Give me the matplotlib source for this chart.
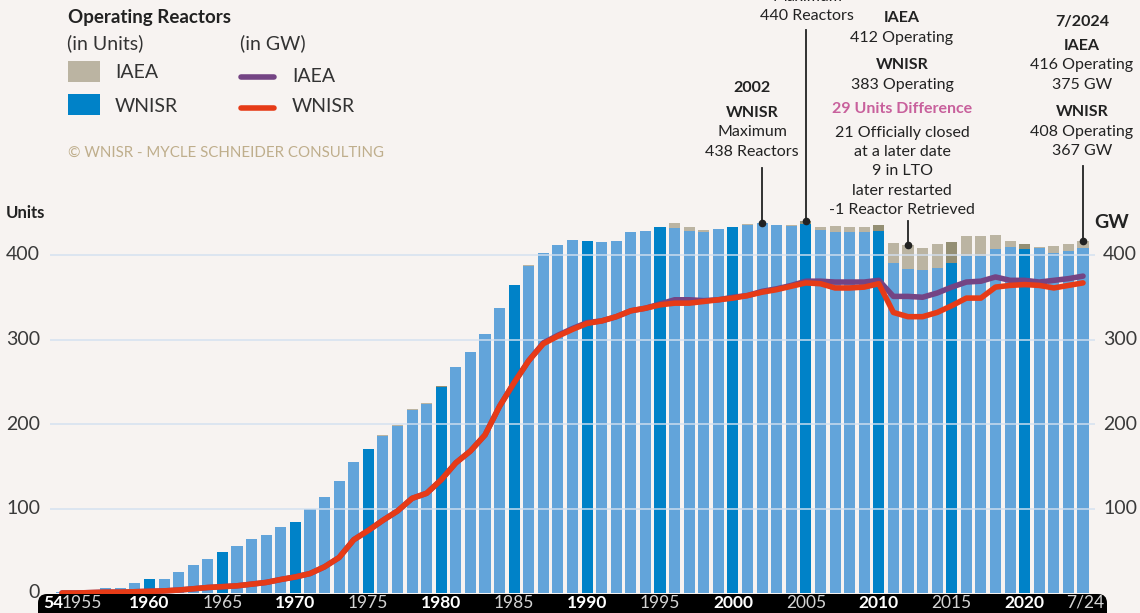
import matplotlib
matplotlib.use("Agg")
import matplotlib.pyplot as plt
from matplotlib.patches import FancyBboxPatch, Rectangle
import numpy as np

# ---------------- data ----------------
years = list(range(1954, 2025))
wnisr_units = [1, 1, 2, 6, 6, 12, 16, 17, 25, 33, 40, 48, 56, 64, 69, 78, 84, 99, 114, 132,
               155, 170, 186, 198, 217, 224, 244, 267, 285, 306, 337, 364, 387, 402, 412, 418,
               416, 415, 417, 427, 428, 433, 432, 428, 427, 431, 433, 436, 438, 435, 434, 437,
               430, 427, 427, 427, 428, 390, 383, 382, 385, 391, 399, 399, 407, 409, 407, 408,
               402, 405, 408]
iaea_units = [1, 1, 2, 6, 6, 12, 16, 17, 25, 33, 40, 48, 56, 64, 69, 78, 84, 99, 114, 132,
              155, 170, 187, 199, 218, 225, 245, 267, 285, 307, 337, 364, 388, 402, 412, 418,
              416, 415, 417, 427, 428, 433, 438, 433, 429, 431, 433, 437, 438, 436, 436, 440,
              433, 434, 433, 433, 435, 414, 412, 408, 413, 415, 422, 423, 424, 417, 413, 410,
              411, 413, 416]
wnisr_gw = [0, 0, 0.5, 1, 1, 1.5, 2, 2.5, 3.5, 5, 6.5, 7.5, 8.5, 10.5, 12.5, 16, 19, 23, 31, 42,
            63, 74, 86, 97, 112, 118, 134, 154, 168, 187, 221, 249, 275, 295, 304, 312,
            319, 322, 327, 334, 337, 341, 343, 343, 345, 347, 349, 352, 356, 359, 363, 367,
            366, 361, 361, 362, 366, 332, 327, 327, 332, 340, 349, 349, 362, 364, 365, 364,
            361, 364, 367]
iaea_gw = [0, 0, 0.5, 1, 1, 1.5, 2, 2.5, 3.5, 5, 6.5, 7.5, 8.5, 10.5, 12.5, 16, 19, 23, 31, 42,
           63, 74, 86, 97, 112, 118, 134, 154, 168, 187, 221, 249, 275, 296, 305, 313,
           320, 322, 327, 334, 337, 342, 347, 347, 346, 347, 350, 352, 357, 360, 364, 369,
           369, 368, 368, 368, 370, 351, 351, 350, 355, 362, 368, 369, 374, 370, 370, 368,
           370, 372, 375]
left_ticks = [0, 100, 200, 300, 400]
right_ticks = [100, 200, 300, 400]
x_label_years = list(range(1955, 2021, 5))

# ---------------- style ----------------
BG = "#f7f3f1"
LIGHT_BLUE = "#62a4da"
DARK_BLUE = "#0082c8"
GRAY = "#bbb4a2"
DARK_GRAY = "#948f74"
PURPLE = "#744484"
RED = "#e63b17"
TXT = "#222222"
PINK = "#c8609c"
FONT = ["Lato", "DejaVu Sans"]
plt.rcParams["font.family"] = FONT

W, H = 1140, 613
fig = plt.figure(figsize=(W / 100, H / 100), dpi=100, facecolor=BG)

PX = 0.845          # pixels per unit
Y0 = 593            # pixel row of zero
X0, DX = 62, 14.586  # pixel column of 1954 and pixels per year
ax_l, ax_r, ax_b = 50, 1095, 594
ax = fig.add_axes([ax_l / W, (H - ax_b) / H, (ax_r - ax_l) / W, ax_b / H])
ax.set_xlim(1954 + (ax_l - X0) / DX, 1954 + (ax_r - X0) / DX)
ax.set_ylim(-(ax_b - Y0) / PX, Y0 / PX)
ax.patch.set_visible(False)
ax.axis("off")

def v_of_py(py):
    return (Y0 - py) / PX

yrs = np.array(years)
wn = np.array(wnisr_units)
ia = np.array(iaea_units)
five = yrs % 5 == 0
bar_col = [DARK_BLUE if f else LIGHT_BLUE for f in five]
gap_col = [DARK_GRAY if f else GRAY for f in five]
ax.bar(yrs, wn, width=0.76, color=bar_col, zorder=2)
diff = np.clip(ia - wn, 0, None)
ax.bar(yrs, diff, bottom=wn, width=0.76, color=gap_col, zorder=2)

for tk in left_ticks[1:]:
    ax.axhline(tk, color="#d3e0f0", lw=1.3, alpha=0.8, zorder=3)

ax.plot(yrs, iaea_gw, color=PURPLE, lw=4.0, zorder=4, solid_capstyle="round", solid_joinstyle="round")
ax.plot(yrs, wnisr_gw, color=RED, lw=4.0, zorder=5, solid_capstyle="round", solid_joinstyle="round")

# annotation leader lines
def leader(year, val, top_py):
    ax.plot([year, year], [val, v_of_py(top_py)], color=TXT, lw=1.3, zorder=6, clip_on=False)
    ax.plot([year], [val], marker="o", ms=4.5, color=TXT, zorder=6, clip_on=False)

leader(2002, 438, 168)
leader(2005, 440, 30)
leader(2012, 412, 221)
leader(2024, 416, 166)

# ---------------- overlay in pixel coordinates ----------------
ov = fig.add_axes([0, 0, 1, 1], zorder=10)
ov.set_xlim(0, W)
ov.set_ylim(H, 0)
ov.patch.set_visible(False)
ov.axis("off")

def t(x, y, s, size=11.5, weight="normal", color=TXT, ha="center", **kw):
    ov.text(x, y, s, fontsize=size, fontweight=weight, color=color, ha=ha, va="center", **kw)

# x-axis black band
ov.add_patch(FancyBboxPatch((38, 594), 1069, 30, boxstyle="round,pad=0,rounding_size=9",
                            facecolor="black", edgecolor="none"))
t(53, 603, "54", size=12.5, weight="bold", color="white")
for yv in x_label_years:
    px = X0 + (yv - 1954) * DX
    if yv == 1955:
        px = 82
    if yv % 10 == 0:
        t(px, 603, str(yv), size=12.5, weight="bold", color="white")
    else:
        t(px, 603, str(yv), size=12.5, weight="normal", color="#d4d4d4")
t(1085, 603, "7/24", size=12.5, weight="normal", color="#d4d4d4")

# y tick labels
for v in left_ticks:
    t(40, Y0 - v * PX, str(v), size=14, weight="normal", color="#3a3a3a", ha="right")
for v in right_ticks:
    t(1103, Y0 - v * PX, str(v), size=14, weight="normal", color="#3a3a3a", ha="left")
t(6, 213, "Units", size=12, weight="bold", ha="left")
t(1094, 222, "GW", size=14, weight="bold", ha="left")

# legend
t(68, 17, "Operating Reactors", size=13.5, weight="bold", ha="left")
t(67, 43, "(in Units)", size=14, color="#333333", ha="left")
t(240, 43, "(in GW)", size=14, color="#333333", ha="left")
ov.add_patch(Rectangle((68, 61), 32, 21, facecolor=GRAY, edgecolor="none"))
ov.add_patch(Rectangle((68, 94), 32, 21, facecolor=DARK_BLUE, edgecolor="none"))
t(115, 73, "IAEA", size=14, color="#333333", ha="left")
t(115, 106, "WNISR", size=14, color="#333333", ha="left")
ov.plot([241, 274], [77, 77], color=PURPLE, lw=4, solid_capstyle="round")
ov.plot([241, 274], [108, 108], color=RED, lw=4, solid_capstyle="round")
t(292, 76, "IAEA", size=14, color="#333333", ha="left")
t(292, 107, "WNISR", size=14, color="#333333", ha="left")
t(68, 153, "© WNISR - MYCLE SCHNEIDER CONSULTING", size=10.8, color="#bfae8c", ha="left")

# annotations
t(807, -3, "Maximum")
t(807, 16, "440 Reactors")

t(752, 88, "2002", weight="bold")
t(752, 113, "WNISR", weight="bold")
t(752, 132, "Maximum")
t(752, 152, "438 Reactors")

cx = 902
t(cx, 18, "IAEA", weight="bold")
t(cx, 38, "412 Operating")
t(cx, 65, "WNISR", weight="bold")
t(cx, 85, "383 Operating")
t(cx, 109, "29 Units Difference", weight="bold", color=PINK)
t(cx, 133, "21 Officially closed")
t(cx, 152, "at a later date")
t(cx, 171, "9 in LTO")
t(cx, 191, "later restarted")
t(cx, 210, "-1 Reactor Retrieved")

rx = 1082
t(rx, 22, "7/2024", weight="bold")
t(rx, 46, "IAEA", weight="bold")
t(rx, 65, "416 Operating")
t(rx, 85, "375 GW")
t(rx, 112, "WNISR", weight="bold")
t(rx, 132, "408 Operating")
t(rx, 151, "367 GW")

fig.savefig("out.png", dpi=100, facecolor=BG)
